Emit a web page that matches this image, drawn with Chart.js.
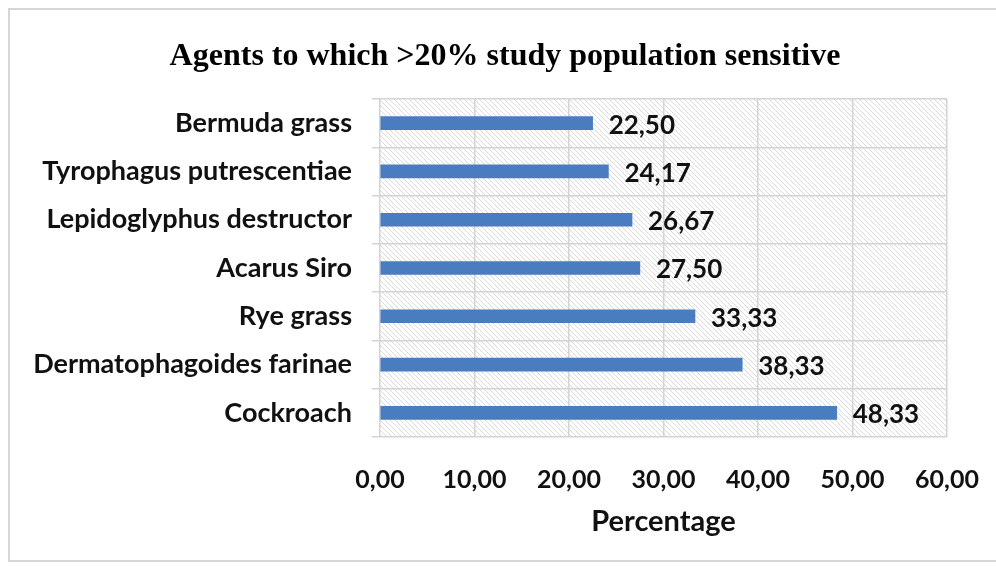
<!DOCTYPE html>
<html>
<head>
<meta charset="utf-8">
<script src="https://cdn.jsdelivr.net/npm/chart.js@4.4.0/dist/chart.umd.min.js"></script>
<style>
html,body{margin:0;padding:0;background:#fff;}
#wrap{width:996px;height:567px;position:relative;}
</style>
</head>
<body>
<div id="wrap"><canvas id="c" width="996" height="567"></canvas></div>
<script>
const categories = ["Bermuda grass","Tyrophagus putrescentiae","Lepidoglyphus destructor","Acarus Siro","Rye grass","Dermatophagoides farinae","Cockroach"];
const values = [22.50, 24.17, 26.67, 27.50, 33.33, 38.33, 48.33];
const xTicks = [0, 10, 20, 30, 40, 50, 60];
const titleText = "Agents to which >20% study population sensitive";
const xTitle = "Percentage";

function fmt(v){ return v.toFixed(2).replace('.', ','); }

function makePattern(ctx){
  const p = document.createElement('canvas');
  p.width = 5; p.height = 5;
  const g = p.getContext('2d');
  g.fillStyle = '#ffffff';
  g.fillRect(0,0,5,5);
  g.strokeStyle = 'rgba(205,205,205,0.75)';
  g.lineWidth = 1;
  g.beginPath();
  g.moveTo(-1,-1); g.lineTo(6,6);
  g.moveTo(-1,4); g.lineTo(1,6);
  g.moveTo(4,-1); g.lineTo(6,1);
  g.stroke();
  return ctx.createPattern(p,'repeat');
}

const bgPlugin = {
  id: 'bg',
  beforeDraw(chart){
    const ctx = chart.ctx;
    ctx.save();
    ctx.fillStyle = '#fff';
    ctx.fillRect(0,0,chart.width,chart.height);
    ctx.strokeStyle = '#d6d6d6';
    ctx.lineWidth = 2;
    ctx.strokeRect(9, 9, chart.width, chart.height - 15);
    const a = chart.chartArea;
    ctx.fillStyle = makePattern(ctx);
    ctx.fillRect(a.left, a.top, a.right - a.left, a.bottom - a.top);
    ctx.restore();
  },
  afterDraw(chart){
    const ctx = chart.ctx;
    ctx.save();
    ctx.font = 'bold 32px "Liberation Serif", "Times New Roman", serif';
    ctx.fillStyle = '#000';
    ctx.textAlign = 'center';
    ctx.textBaseline = 'middle';
    ctx.fillText(titleText, 505, 57);
    ctx.restore();
  }
};

const valuePlugin = {
  id: 'vals',
  afterDatasetsDraw(chart){
    const ctx = chart.ctx;
    const meta = chart.getDatasetMeta(0);
    ctx.save();
    ctx.font = 'bold 26px Lato';
    ctx.fillStyle = '#111';
    ctx.textBaseline = 'middle';
    ctx.textAlign = 'left';
    meta.data.forEach((el, i) => {
      ctx.fillText(fmt(chart.data.datasets[0].data[i]), el.x + 16, el.y + 2);
    });
    ctx.restore();
  }
};

new Chart(document.getElementById('c'), {
  type: 'bar',
  data: {
    labels: categories,
    datasets: [{
      data: values,
      backgroundColor: '#4a7cc0',
      borderWidth: 0,
      barThickness: 13
    }]
  },
  options: {
    indexAxis: 'y',
    responsive: false,
    animation: false,
    layout: { padding: { left: 0, right: 49, top: 99, bottom: 0 } },
    plugins: {
      legend: { display: false },
      tooltip: { enabled: false },
      title: { display: false }
    },
    scales: {
      x: {
        min: 0, max: 60,
        afterBuildTicks(scale){ scale.ticks = xTicks.map(v => ({value: v})); },
        afterFit(scale){ scale.height = 130; scale.paddingLeft = 0; scale.paddingRight = 0; },
        ticks: {
          callback: (v) => fmt(v),
          color: '#111',
          font: { family: 'Lato', size: 25, weight: 'bold' },
          padding: 28,
          maxRotation: 0
        },
        grid: { color: '#d4d4d4', lineWidth: 1.5, drawTicks: false },
        border: { display: false },
        title: {
          display: true,
          text: xTitle,
          color: '#111',
          font: { family: 'Lato', size: 29, weight: 'bold' },
          padding: { top: 0, bottom: 28 }
        }
      },
      y: {
        afterFit(scale){ scale.width = 380; },
        ticks: {
          color: '#111',
          font: { family: 'Lato', size: 27, weight: 'bold' },
          padding: 20
        },
        grid: { offset: true, color: '#d4d4d4', lineWidth: 1.5, drawTicks: true, tickLength: 8 },
        border: { display: false }
      }
    }
  },
  plugins: [bgPlugin, valuePlugin]
});
</script>
</body>
</html>
